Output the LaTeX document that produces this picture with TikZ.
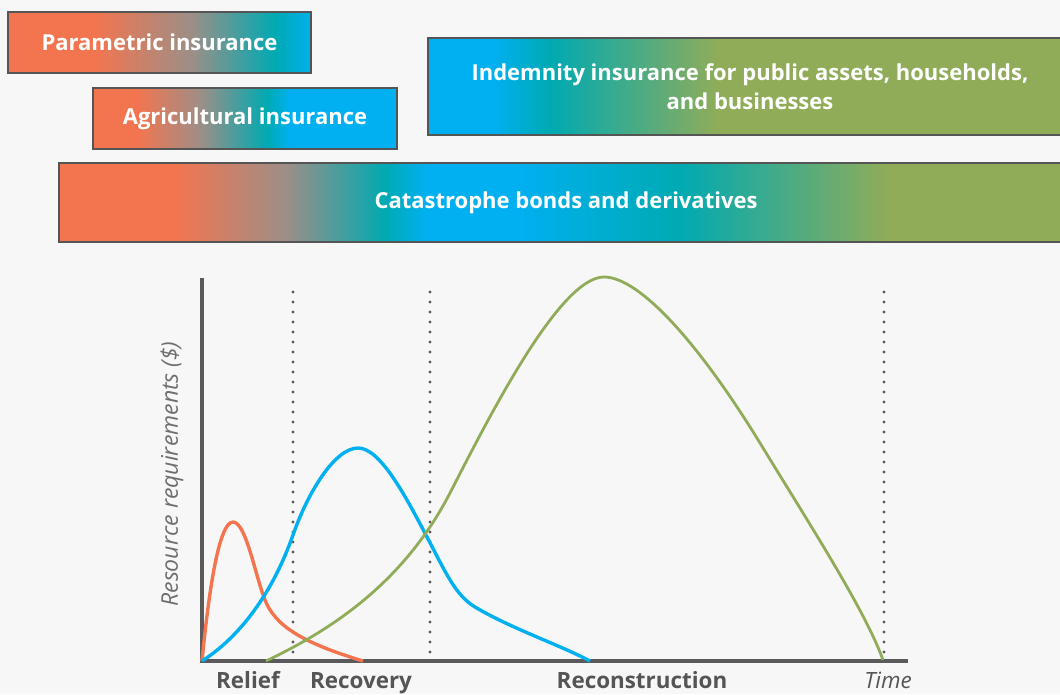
\documentclass[tikz,border=0pt]{standalone}
\usepackage{fontspec}
\setmainfont{Open Sans}
\usepackage{tikz}
\usetikzlibrary{positioning}
\definecolor{ReliefColor}{RGB}{243,117,80}
\definecolor{RecoveryColor}{RGB}{0,176,240}
\definecolor{TealColor}{RGB}{0,170,178}
\definecolor{MidGray}{RGB}{158,142,134}
\definecolor{RebuildColor}{RGB}{145,172,88}
\definecolor{AxisColor}{RGB}{90,90,90}
\definecolor{LabelColor}{RGB}{85,85,85}
\definecolor{EdgeColor}{RGB}{85,85,85}
\definecolor{BgColor}{RGB}{247,247,247}
\newcommand{\shadebar}[3]{\foreach \xa/\xb/\ca/\cb in {#3} {\shade[left color=\ca, right color=\cb] (\xa,#1) rectangle (\xb,#2);}}
\tikzstyle{bar} = [draw=EdgeColor, line width=1.2, text=white, font=\fontsize{22}{29}\selectfont\bfseries, align=center, inner sep=0, outer sep=0, anchor=north west]
\tikzstyle{axis} = [AxisColor, line width=3.2]
\tikzstyle{divider} = [AxisColor, line width=3.4, line cap=round, dash pattern=on 0pt off 10pt]
\tikzstyle{curve} = [line width=3.4, line join=round]
\tikzset{
  phase/.style={text=LabelColor, font=\fontsize{22.4}{26}\selectfont\bfseries, anchor=base},
  ylabel/.style={text=LabelColor!85, font=\fontsize{23}{26}\selectfont\itshape, rotate=90}
}
\begin{document}
\begin{tikzpicture}[x=1pt, y=-1pt]
  \clip (0,0) rectangle (1060,694);
  \fill[BgColor] (0,0) rectangle (1060,694);

  % Instrument bars
  \shadebar{12}{73}{8/95/ReliefColor/ReliefColor, 95/190/ReliefColor/MidGray, 190/275/MidGray/TealColor, 275/311/TealColor/RecoveryColor}
  \node[bar, minimum width=303, minimum height=61] (param) at (8,12) {Parametric insurance};

  \shadebar{88}{149}{93/137/ReliefColor/ReliefColor, 137/200/ReliefColor/MidGray, 200/267/MidGray/TealColor, 267/290/TealColor/RecoveryColor, 290/397/RecoveryColor/RecoveryColor}
  \node[bar, minimum width=304, minimum height=61] (agri) at (93,88) {Agricultural insurance};

  \shadebar{38}{135}{428/495/RecoveryColor/RecoveryColor, 495/550/RecoveryColor/TealColor, 550/720/TealColor/RebuildColor, 720/1072/RebuildColor/RebuildColor}
  \node[bar, minimum width=644, minimum height=97] (indem) at (428,38) {Indemnity insurance for public assets, households,\\and businesses};

  \shadebar{163}{242}{59/175/ReliefColor/ReliefColor, 175/285/ReliefColor/MidGray, 285/385/MidGray/TealColor, 385/425/TealColor/RecoveryColor, 425/520/RecoveryColor/RecoveryColor, 520/680/RecoveryColor/TealColor, 680/890/TealColor/RebuildColor, 890/1073/RebuildColor/RebuildColor}
  \node[bar, minimum width=1014, minimum height=79] (catbond) at (59,163) {Catastrophe bonds and derivatives};

  % Phase dividers
  \foreach \x in {293, 430, 884}
    \draw[divider] (\x,292) -- (\x,661);

  % Axes
  \coordinate (origin) at (202,661);
  \draw[axis] (202,278) -- (origin) -- (908,661);

  % Resource curves
  \draw[curve, ReliefColor] (origin) .. controls (208,600) and (218,522) .. (233,522)
    .. controls (246,522) and (255,575) .. (265,600)
    .. controls (275,625) and (300,642) .. (363,661);
  \draw[curve, RecoveryColor] (origin) .. controls (235,640) and (270,600) .. (293,535)
    .. controls (308,492) and (335,448) .. (358,448)
    .. controls (380,448) and (405,495) .. (427,537)
    .. controls (445,571) and (455,595) .. (475,607)
    .. controls (510,628) and (560,645) .. (590,661);
  \draw[curve, RebuildColor, line width=2.8] (266,661) .. controls (320,635) and (400,590) .. (450,493)
    .. controls (490,415) and (560,277) .. (604,277)
    .. controls (640,277) and (700,345) .. (760,443)
    .. controls (810,525) and (865,610) .. (883,660);

  % Labels
  \node[ylabel] (ylab) at (172,474) {Resource requirements (\$)};
  \node[phase] (relief) at (248,688) {Relief};
  \node[phase] (recov) at (361,688) {Recovery};
  \node[phase] (recon) at (642,688) {Reconstruction};
  \node[phase, font=\fontsize{22.4}{26}\selectfont\itshape] (time) at (888,688) {Time};
\end{tikzpicture}
\end{document}
